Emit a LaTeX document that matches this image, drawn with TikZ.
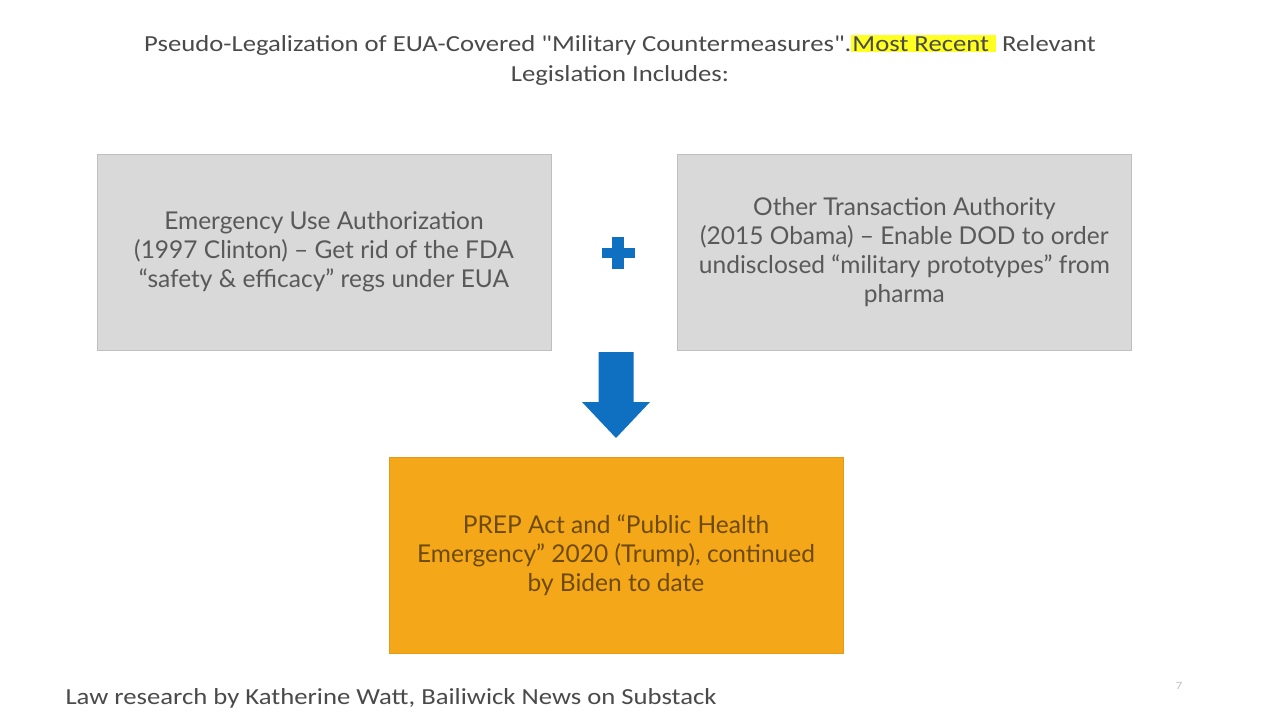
\documentclass[tikz,border=0pt]{standalone}
\usepackage{fontspec}
\setmainfont{Lato}
\newfontfamily\narrowfont[FakeStretch=1.16]{Carlito}
\usetikzlibrary{positioning}
\definecolor{boxgray}{HTML}{D9D9D9}
\definecolor{boxline}{HTML}{BFBFBF}
\definecolor{boxtext}{HTML}{595959}
\definecolor{prepfill}{HTML}{F5A71A}
\definecolor{prepline}{HTML}{E49A12}
\definecolor{preptext}{HTML}{6E4B05}
\definecolor{msblue}{HTML}{0F6FC0}
\definecolor{marker}{HTML}{FFFF22}
\definecolor{headtext}{HTML}{4A4A4A}
\begin{document}
\begin{tikzpicture}[x=1pt,y=-1pt,
	graybox/.style={draw=boxline,fill=boxgray,minimum width=454pt,minimum height=196pt,text=boxtext,align=center,font=\fontsize{24.5}{29}\selectfont},
	prepbox/.style={graybox,draw=prepline,fill=prepfill,text=preptext},
	headline/.style={text=headtext,align=center,font=\narrowfont\fontsize{23}{30}\selectfont},
	blueshape/.style={fill=msblue}]
	\useasboundingbox[fill=white] (0,0) rectangle (1280,720);
	\node[headline] (title) at (620,60) {Pseudo-Legalization of EUA-Covered "Military Countermeasures".{\setlength{\fboxsep}{1pt}\colorbox{marker}{Most Recent\ }} Relevant\\Legislation Includes:};
	\node[graybox] (eua) at (324,252) {Emergency Use Authorization\\(1997 Clinton) -- Get rid of the FDA\\“safety \& efficacy” regs under EUA};
	\node[graybox,right=126pt of eua] (ota) {Other Transaction Authority\\(2015 Obama) -- Enable DOD to order\\undisclosed “military prototypes” from\\pharma};
	\node[prepbox] (prep) at (616,555) {PREP Act and “Public Health\\Emergency” 2020 (Trump), continued\\by Biden to date};
	\coordinate (plus) at (618,253);
	\fill[blueshape] (plus) ++(-16.5,-5) rectangle ++(33,10);
	\fill[blueshape] (plus) ++(-6,-16) rectangle ++(12,32);
	\coordinate (arrowtop) at (616,352);
	\fill[blueshape] (arrowtop) ++(-17.5,0) -- ++(35,0) -- ++(0,50) -- ++(16.5,0) -- ++(-34,36) -- ++(-34,-36) -- ++(16.5,0) -- cycle;
	\node[text=headtext,anchor=base west,font=\narrowfont\fontsize{23}{28}\selectfont] (credit) at (62,704) {Law research by Katherine Watt, Bailiwick News on Substack};
	\node[text=boxline,font=\narrowfont\fontsize{11}{13}\selectfont] (page) at (1179,686) {7};
\end{tikzpicture}
\end{document}
